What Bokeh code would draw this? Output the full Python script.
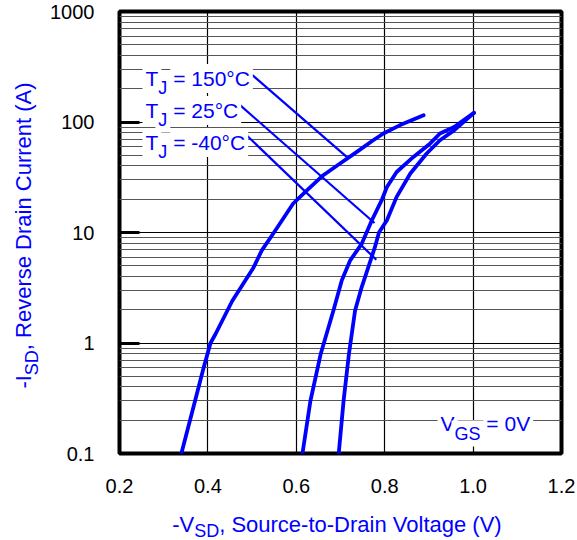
import math
from bokeh.plotting import figure
from bokeh.layouts import row, column
from bokeh.models import Range1d, FixedTicker, Label, PrintfTickFormatter
from bokeh.embed import file_html
from bokeh.resources import INLINE

# ---------------- data ----------------
v_150 = [0.340, 0.371, 0.390, 0.406, 0.417, 0.455, 0.503, 0.522, 0.548, 0.593, 0.624,
         0.661, 0.699, 0.737, 0.774, 0.797, 0.835, 0.888]
i_150 = [0.1, 0.30, 0.59, 1.0, 1.2, 2.4, 4.8, 6.9, 9.8, 18.3, 24.1,
         33.0, 42.1, 53.6, 68.4, 78.7, 93.7, 115]

v_25 = [0.614, 0.632, 0.655, 0.684, 0.703, 0.722, 0.748, 0.771, 0.793, 0.805, 0.827,
        0.865, 0.903, 0.925, 0.957, 1.002]
i_25 = [0.1, 0.30, 0.79, 1.97, 3.69, 5.6, 7.9, 12.9, 19.5, 25.8, 35.3,
        48.3, 64, 78.7, 90, 121]

v_m40 = [0.696, 0.707, 0.719, 0.733, 0.748, 0.763, 0.778, 0.787, 0.805, 0.827, 0.858,
         0.895, 0.925, 0.957, 1.002]
i_m40 = [0.1, 0.30, 0.79, 1.97, 3.21, 4.87, 7.4, 10, 12.9, 21, 34.2,
         51.9, 68.4, 84, 121]

# leader lines of the temperature labels (label end -> point on curve)
lead_150_v = [0.4954, 0.714]
lead_150_i = [277, 48.4]
lead_25_v = [0.4727, 0.777]
lead_25_i = [142, 12.2]
lead_m40_v = [0.4875, 0.781]
lead_m40_i = [75.9, 5.67]

x_ticks = [0.2, 0.4, 0.6, 0.8, 1.0, 1.2]
x_grid = [0.4, 0.6, 0.8, 1.0]
y_ticks = [0.1, 1, 10, 100, 1000]
y_tick_labels = ["0.1", "1", "10", "100", "1000"]

# ---------------- styling / layout ----------------
BLUE = "#0000ff"
FONT = "Liberation Sans"
W, H = 577, 540
YLAB_W = 45          # strip left of the main figure holding the y axis title
XLAB_H = 40          # strip below holding the x axis title
MW, MH = W - YLAB_W, H - XLAB_H
FL, FR, FT, FB = 119, 561, 11, 453  # frame edges on the whole page

p = figure(width=MW, height=MH, x_range=Range1d(0.2, 1.2), y_range=Range1d(0.1, 1000),
           y_axis_type="log", output_backend="svg", toolbar_location=None,
           min_border_left=FL - YLAB_W, min_border_right=W - FR, min_border_top=FT,
           min_border_bottom=MH - FB)
p.background_fill_color = "white"
p.border_fill_color = "white"
p.outline_line_color = "black"
p.outline_line_width = 4

# axes
p.xaxis.ticker = FixedTicker(ticks=x_ticks)
p.xaxis.formatter = PrintfTickFormatter(format="%.1f")
p.xaxis.axis_line_color = None
p.xaxis.major_tick_line_color = None
p.xaxis.minor_tick_line_color = None
p.xaxis.major_label_standoff = 19
p.xaxis.major_label_text_font = FONT
p.xaxis.major_label_text_font_size = "20px"
p.xaxis.major_label_text_color = "black"

minor = [m * 10.0 ** e for e in range(-1, 3) for m in range(2, 10)]
p.yaxis.ticker = FixedTicker(ticks=y_ticks, minor_ticks=minor)
p.yaxis.major_label_overrides = {t: s for t, s in zip(y_ticks, y_tick_labels)}
p.yaxis.axis_line_color = None
p.yaxis.major_tick_in = 20
p.yaxis.major_tick_out = 0
p.yaxis.major_tick_line_width = 3
p.yaxis.major_tick_line_color = "black"
p.yaxis.minor_tick_line_color = None
p.yaxis.major_label_standoff = 21
p.yaxis.major_label_text_font = FONT
p.yaxis.major_label_text_font_size = "20px"
p.yaxis.major_label_text_color = "black"

# grids
p.xgrid.ticker = FixedTicker(ticks=x_grid)
p.xgrid.grid_line_color = "black"
p.xgrid.grid_line_width = 1.2
p.ygrid.ticker = FixedTicker(ticks=[1, 10, 100], minor_ticks=minor)
p.ygrid.grid_line_color = "black"
p.ygrid.grid_line_width = 1.2
p.ygrid.minor_grid_line_color = "#555555"
p.ygrid.minor_grid_line_width = 1

# curves
for v, i in ((v_150, i_150), (v_25, i_25), (v_m40, i_m40)):
    p.line(v, i, line_color=BLUE, line_width=3.8, line_join="round", line_cap="round")

# leader lines
for v, i in ((lead_150_v, lead_150_i), (lead_25_v, lead_25_i), (lead_m40_v, lead_m40_i)):
    p.line(v, i, line_color=BLUE, line_width=2.2)


def strip_fig(w, h):
    f = figure(width=w, height=h, x_range=Range1d(0, 1), y_range=Range1d(0, 1),
               output_backend="svg", toolbar_location=None,
               x_axis_location=None, y_axis_location=None, min_border=0)
    f.outline_line_color = None
    f.grid.visible = False
    f.background_fill_color = "white"
    f.border_fill_color = "white"
    return f


ylab = strip_fig(YLAB_W, MH)
xlab = strip_fig(W, XLAB_H)

# ---------------- texts with subscripts ----------------
WID = {' ': 278, '-': 333, ',': 278, '.': 278, '(': 333, ')': 333, '=': 584, '°': 400,
       'A': 667, 'C': 722, 'D': 722, 'G': 778, 'I': 278, 'J': 500, 'R': 722, 'S': 667,
       'T': 611, 'V': 667, 'a': 556, 'c': 500, 'e': 556, 'g': 556, 'i': 222, 'l': 222,
       'n': 556, 'o': 556, 'r': 333, 's': 500, 't': 278, 'u': 556, 'v': 500}
for d in "0123456789":
    WID[d] = 556


def tw(s, size):
    return sum(WID.get(c, 556) for c in s) * size / 1000.0


def add_text(fig, ox, oy_bottom, pieces, cx, cy, angle=0.0, bg=False):
    """cx, cy: page position of the first baseline start; ox: page x of the
    figure frame's left edge; oy_bottom: page y of the frame's bottom edge."""
    adv = 0.0
    for text, size, shift in pieces:
        lead = len(text) - len(text.lstrip(" "))
        adv += tw(" " * lead, size)
        text = text.lstrip(" ")
        if angle == 0:
            x, y = cx + adv, cy + shift
        else:
            x, y = cx + shift, cy - adv
        lab = Label(x=x - ox, y=oy_bottom - y, x_units="screen", y_units="screen",
                    text=text, angle=angle, text_font=FONT, text_font_size=f"{size}px",
                    text_color=BLUE, text_align="left", text_baseline="alphabetic")
        if bg:
            lab.background_fill_color = "white"
            lab.padding = 3
        fig.add_layout(lab)
        adv += tw(text, size)
    return adv


# x axis title
xl = [("-V", 22, 0), ("SD", 18, 6), (", Source-to-Drain Voltage (V)", 22, 0)]
xw = sum(tw(t, s) for t, s, _ in xl)
add_text(xlab, 0, H, xl, 337 - xw / 2, 524)

# y axis title (rotated); the row aligns this strip's frame with the main frame
yl = [("-I", 22, 0), ("SD", 18, 8), (", Reverse Drain Current (A)", 22, 0)]
yw = sum(tw(t, s) for t, s, _ in yl)
add_text(ylab, 0, FB, yl, 23, 235 + yw / 2, angle=math.pi / 2)

# temperature labels (inside the main frame)
add_text(p, FL, FB, [("T", 21, 0), ("J", 18, 9), (" = 150°C", 21, 0)], 142, 78, bg=True)
add_text(p, FL, FB, [("T", 21, 0), ("J", 18, 9), (" = 25°C", 21, 0)], 142, 110, bg=True)
add_text(p, FL, FB, [("T", 21, 0), ("J", 18, 9), (" = -40°C", 21, 0)], 142, 142, bg=True)

# VGS label
add_text(p, FL, FB, [("V", 21, 0), ("GS", 18, 10), (" = 0V", 21, 0)], 437, 423, bg=True)

layout = column(row(ylab, p, spacing=0), xlab, spacing=0)
open("out.html", "w").write(file_html(layout, INLINE))
